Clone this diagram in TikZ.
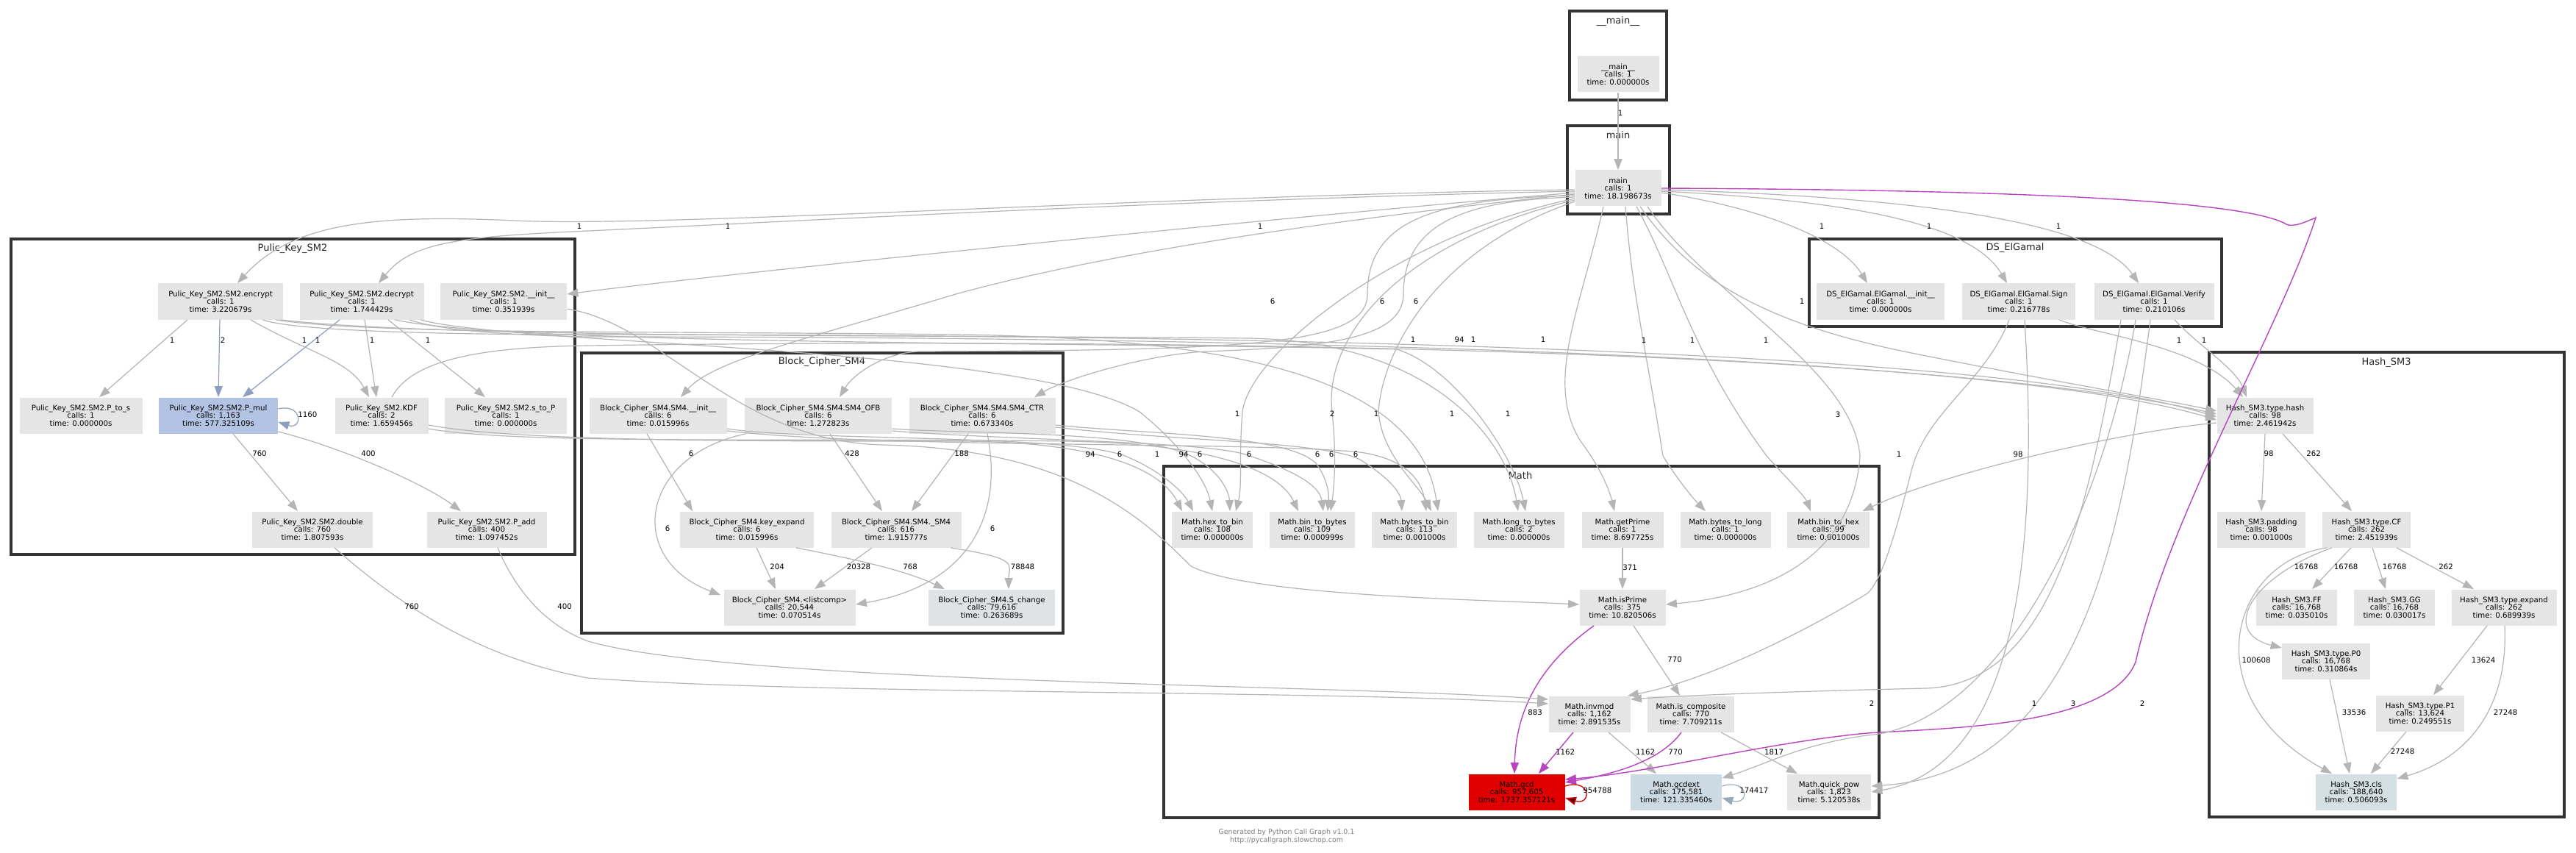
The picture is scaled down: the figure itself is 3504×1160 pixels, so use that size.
\documentclass[tikz,border=0pt]{standalone}
\usepackage{fontspec}
\newfontfamily\vf{DejaVu Sans}
\usetikzlibrary{calc,arrows.meta}
\definecolor{ng}{HTML}{E5E5E5}
\definecolor{pmulc}{HTML}{B3C3E3}
\definecolor{gcdc}{HTML}{E00000}
\definecolor{gcdxc}{HTML}{CBDAE3}
\definecolor{clsc}{HTML}{D5E0E5}
\definecolor{schc}{HTML}{DFE3E5}
\definecolor{eg}{HTML}{B5B5B5}
\definecolor{eblue}{HTML}{8E9EBE}
\definecolor{emag}{HTML}{B844C2}
\definecolor{ered}{HTML}{CC1111}
\definecolor{eloop}{HTML}{9AABB8}
\definecolor{cluc}{HTML}{333333}
\newcommand\nodefnt{\vf\fontsize{5.1}{5.3}\selectfont}
\newcommand\clufnt{\vf\fontsize{6.5}{7}\selectfont}
\newcommand\footfnt{\vf\fontsize{4.7}{5.6}\selectfont}
\tikzset{
  fn/.style={fill=ng, inner sep=0pt, minimum height=24.5pt, align=center, font=\nodefnt, text=black},
  clu/.style={draw=cluc, line width=2pt},
  clbl/.style={font=\clufnt, text=black!85, inner sep=0pt},
  e/.style={draw=eg, line width=0.6pt, -{Triangle[length=7.5pt,width=5.5pt]}},
  eb/.style={draw=eblue, line width=0.6pt, -{Triangle[length=7.5pt,width=5.5pt]}},
  em/.style={draw=emag, line width=0.7pt, -{Triangle[length=7.5pt,width=5.5pt]}},
  lbl/.style={font=\nodefnt, inner sep=0pt},
  foot/.style={font=\footfnt, text=black!50, inner sep=0pt}
}
\begin{document}
\begin{tikzpicture}[x=0.5pt,y=-0.5pt]
\useasboundingbox (0,0) rectangle (3504,1160);
\fill[white] (0,0) rectangle (3504,1160);
% clusters
\draw[clu] (2135,15) rectangle (2267,136);
\draw[clu] (2132,171) rectangle (2271,291);
\draw[clu] (15,325) rectangle (782,754);
\draw[clu] (791,480) rectangle (1446,861);
\draw[clu] (1583,634) rectangle (2556,1112);
\draw[clu] (2461,325) rectangle (3022,444);
\draw[clu] (3005,479) rectangle (3488,1111);
\node[clbl] (c_mm) at (2201,29) {\_\_main\_\_};
\node[clbl] (c_main) at (2201,184) {main};
\node[clbl] (c_sm2) at (398,338) {Pulic\_Key\_SM2};
\node[clbl] (c_sm4) at (1118,492) {Block\_Cipher\_SM4};
\node[clbl] (c_math) at (2068,647) {Math};
\node[clbl] (c_ds) at (2741,337) {DS\_ElGamal};
\node[clbl] (c_hash) at (3246,493) {Hash\_SM3};
% nodes
\node[fn, minimum width=55.5pt] (mm) at (2201,101) {\_\_main\_\_\\calls: 1\\time: 0.000000s};
\node[fn, minimum width=58.5pt] (main) at (2201,256) {main\\calls: 1\\time: 18.198673s};
\node[fn, minimum width=85pt] (enc) at (300,410) {Pulic\_Key\_SM2.SM2.encrypt\\calls: 1\\time: 3.220679s};
\node[fn, minimum width=84.5pt] (dec) at (492,410) {Pulic\_Key\_SM2.SM2.decrypt\\calls: 1\\time: 1.744429s};
\node[fn, minimum width=86pt] (sminit) at (685,410) {Pulic\_Key\_SM2.SM2.\_\_init\_\_\\calls: 1\\time: 0.351939s};
\node[fn, minimum width=83.5pt] (pts) at (110,565) {Pulic\_Key\_SM2.SM2.P\_to\_s\\calls: 1\\time: 0.000000s};
\node[fn, fill=pmulc, minimum width=81pt] (pmul) at (297,565) {Pulic\_Key\_SM2.SM2.P\_mul\\calls: 1,163\\time: 577.325109s};
\node[fn, minimum width=63.5pt] (kdf) at (519,565) {Pulic\_Key\_SM2.KDF\\calls: 2\\time: 1.659456s};
\node[fn, minimum width=83pt] (stp) at (688,565) {Pulic\_Key\_SM2.SM2.s\_to\_P\\calls: 1\\time: 0.000000s};
\node[fn, minimum width=82pt] (dbl) at (425,720) {Pulic\_Key\_SM2.SM2.double\\calls: 760\\time: 1.807593s};
\node[fn, minimum width=81.5pt] (padd) at (662,720) {Pulic\_Key\_SM2.SM2.P\_add\\calls: 400\\time: 1.097452s};
\node[fn, minimum width=93.5pt] (sinit) at (895,565) {Block\_Cipher\_SM4.SM4.\_\_init\_\_\\calls: 6\\time: 0.015996s};
\node[fn, minimum width=100pt] (ofb) at (1113,565) {Block\_Cipher\_SM4.SM4.SM4\_OFB\\calls: 6\\time: 1.272823s};
\node[fn, minimum width=99.5pt] (ctr) at (1336,565) {Block\_Cipher\_SM4.SM4.SM4\_CTR\\calls: 6\\time: 0.673340s};
\node[fn, minimum width=91pt] (kexp) at (1016,720) {Block\_Cipher\_SM4.key\_expand\\calls: 6\\time: 0.015996s};
\node[fn, minimum width=88.5pt] (sm4f) at (1219,720) {Block\_Cipher\_SM4.SM4.\_SM4\\calls: 616\\time: 1.915777s};
\node[fn, minimum width=89.5pt] (lcomp) at (1074,826) {Block\_Cipher\_SM4.<listcomp>\\calls: 20,544\\time: 0.070514s};
\node[fn, fill=schc, minimum width=86pt] (schg) at (1349,826) {Block\_Cipher\_SM4.S\_change\\calls: 79,616\\time: 0.263689s};
\node[fn, minimum width=87pt] (einit) at (2558,410) {DS\_ElGamal.ElGamal.\_\_init\_\_\\calls: 1\\time: 0.000000s};
\node[fn, minimum width=77pt] (sign) at (2746,410) {DS\_ElGamal.ElGamal.Sign\\calls: 1\\time: 0.216778s};
\node[fn, minimum width=81.5pt] (verify) at (2930,410) {DS\_ElGamal.ElGamal.Verify\\calls: 1\\time: 0.210106s};
\node[fn, minimum width=55pt] (htb) at (1649,720) {Math.hex\_to\_bin\\calls: 108\\time: 0.000000s};
\node[fn, minimum width=58pt] (btby) at (1785,720) {Math.bin\_to\_bytes\\calls: 109\\time: 0.000999s};
\node[fn, minimum width=58pt] (bytb) at (1924,720) {Math.bytes\_to\_bin\\calls: 113\\time: 0.001000s};
\node[fn, minimum width=61.5pt] (ltb) at (2066,720) {Math.long\_to\_bytes\\calls: 2\\time: 0.000000s};
\node[fn, minimum width=55.5pt] (gp) at (2207,720) {Math.getPrime\\calls: 1\\time: 8.697725s};
\node[fn, minimum width=61.5pt] (btl) at (2347,720) {Math.bytes\_to\_long\\calls: 1\\time: 0.000000s};
\node[fn, minimum width=56pt] (bth) at (2487,720) {Math.bin\_to\_hex\\calls: 99\\time: 0.001000s};
\node[fn, minimum width=58.5pt] (isp) at (2207,826) {Math.isPrime\\calls: 375\\time: 10.820506s};
\node[fn, minimum width=55.5pt] (inv) at (2162,971) {Math.invmod\\calls: 1,162\\time: 2.891535s};
\node[fn, minimum width=59pt] (isc) at (2300,971) {Math.is\_composite\\calls: 770\\time: 7.709211s};
\node[fn, fill=gcdc, minimum width=65.5pt] (gcd) at (2063,1077) {Math.gcd\\calls: 957,605\\time: 1737.357121s};
\node[fn, fill=gcdxc, minimum width=62pt] (gcdx) at (2280,1077) {Math.gcdext\\calls: 175,581\\time: 121.335460s};
\node[fn, minimum width=57pt] (qp) at (2488,1077) {Math.quick\_pow\\calls: 1,823\\time: 5.120538s};
\node[fn, minimum width=65.5pt] (hash) at (3081,565) {Hash\_SM3.type.hash\\calls: 98\\time: 2.461942s};
\node[fn, minimum width=60pt] (pad) at (3076,720) {Hash\_SM3.padding\\calls: 98\\time: 0.001000s};
\node[fn, minimum width=60pt] (cf) at (3219,720) {Hash\_SM3.type.CF\\calls: 262\\time: 2.451939s};
\node[fn, minimum width=55pt] (ff) at (3124,826) {Hash\_SM3.FF\\calls: 16,768\\time: 0.035010s};
\node[fn, minimum width=55pt] (gg) at (3257,826) {Hash\_SM3.GG\\calls: 16,768\\time: 0.030017s};
\node[fn, minimum width=71.5pt] (expd) at (3406,826) {Hash\_SM3.type.expand\\calls: 262\\time: 0.689939s};
\node[fn, minimum width=60pt] (pz) at (3164,899) {Hash\_SM3.type.P0\\calls: 16,768\\time: 0.310864s};
\node[fn, minimum width=60pt] (po) at (3292,970) {Hash\_SM3.type.P1\\calls: 13,624\\time: 0.249551s};
\node[fn, fill=clsc, minimum width=55pt] (cls) at (3205,1077) {Hash\_SM3.cls\\calls: 188,640\\time: 0.506093s};
% ---------- edges inside clusters ----------
\draw[e] (mm.south) -- (main.north);
\draw[e] ($(enc.south)+(-45,0)$) -- ($(pts.north)+(25,0)$);
\draw[eb] ($(enc.south)+(-1,0)$) -- (pmul.north);
\draw[eb] ($(dec.south)+(-30,0)$) -- ($(pmul.north)+(33,0)$);
\draw[e] ($(enc.south)+(41,0)$) .. controls (420,480) and (475,490) .. ($(kdf.north)+(-17,0)$);
\draw[e] ($(dec.south)+(4,0)$) -- ($(kdf.north)+(-7,0)$);
\draw[e] ($(dec.south)+(36,0)$) -- ($(stp.north)+(-28,0)$);
\draw[eb] ($(pmul.east)+(0,-9)$) .. controls (412,548) and (412,585) .. ($(pmul.east)+(0,9)$);
\draw[e] ($(pmul.south)+(20,0)$) -- ($(dbl.north)+(-20,0)$);
\draw[e] ($(pmul.east)+(0,22)$) .. controls (470,610) and (580,660) .. ($(padd.north)+(-35,0)$);
\draw[e] ($(sinit.south)+(-15,0)$) -- ($(kexp.north)+(-74,0)$);
\draw[e] ($(ofb.south)+(16,0)$) -- ($(sm4f.north)+(-19,0)$);
\draw[e] ($(ctr.south)+(-19,0)$) -- ($(sm4f.north)+(21,0)$);
\draw[e] ($(ofb.south west)+(2,0)$) .. controls (870,620) and (850,760) .. ($(lcomp.north west)+(-4,8)$);
\draw[e] ($(ctr.south)+(7,0)$) .. controls (1365,700) and (1320,795) .. ($(lcomp.east)+(0,-4)$);
\draw[e] ($(kexp.south)+(13,0)$) -- ($(lcomp.north)+(-19,0)$);
\draw[e] ($(sm4f.south)+(-33,0)$) -- ($(lcomp.north)+(34,0)$);
\draw[e] ($(kexp.south)+(67,0)$) .. controls (1160,760) and (1230,775) .. ($(schg.north)+(-64,0)$);
\draw[e] ($(sm4f.south)+(74,0)$) .. controls (1390,760) and (1372,768) .. ($(schg.north)+(23,0)$);
\draw[e] (gp.south) -- (isp.north);
\draw[e] ($(isp.south)+(15,0)$) -- ($(isc.north)+(-15,0)$);
\draw[em] ($(isp.south)+(-39,0)$) .. controls (2100,900) and (2062,960) .. ($(gcd.north)+(-3,0)$);
\draw[em] ($(inv.south)+(-22,0)$) -- ($(gcd.north)+(30,0)$);
\draw[e] ($(inv.south)+(26,0)$) -- ($(gcdx.north)+(-27,0)$);
\draw[em] ($(isc.south)+(-13,0)$) .. controls (2255,1040) and (2180,1055) .. ($(gcd.east)+(0,-13)$);
\draw[e] ($(isc.south)+(41,0)$) -- ($(qp.north)+(-43,0)$);
\draw[draw=ered, line width=0.7pt, -{Triangle[length=7.5pt,width=5.5pt,fill=black!60!red]}] ($(gcd.east)+(0,-8)$) .. controls (2165,1058) and (2165,1096) .. ($(gcd.east)+(0,8)$);
\draw[draw=eloop, line width=0.6pt, -{Triangle[length=7.5pt,width=5.5pt]}] ($(gcdx.east)+(0,-8)$) .. controls (2380,1058) and (2380,1096) .. ($(gcdx.east)+(0,8)$);
\draw[e] (hash.south) -- (pad.north);
\draw[e] ($(hash.south)+(24,0)$) -- ($(cf.north)+(-20,0)$);
\draw[e] ($(cf.south)+(-47,0)$) .. controls (3060,785) and (3020,860) .. ($(pz.west)+(0,-18)$);
\draw[e] ($(cf.south)+(-21,0)$) -- ($(ff.north)+(21,0)$);
\draw[e] ($(cf.south)+(8,0)$) -- ($(gg.north)+(-12,0)$);
\draw[e] ($(cf.south)+(41,0)$) -- ($(expd.north)+(-41,0)$);
\draw[e] ($(cf.south)+(-54,0)$) .. controls (3030,765) and (2985,950) .. ($(cls.north)+(-33,0)$);
\draw[e] ($(expd.south)+(-23,0)$) -- ($(po.north)+(18,0)$);
\draw[e] ($(expd.south)+(1,0)$) .. controls (3412,960) and (3360,1030) .. ($(cls.east)+(0,-18)$);
\draw[e] ($(pz.south)+(5,0)$) -- ($(cls.north)+(-9,0)$);
\draw[e] ($(po.south)+(-19,0)$) -- ($(cls.north)+(20,0)$);
% ---------- cross edges ----------
\draw[e] ($(main.west)+(0,2)$) .. controls (1600,265) and (900,310) .. (700,300) .. controls (520,292) and (400,300) .. ($(enc.north)+(23,0)$);
\draw[e] ($(main.west)+(0,4)$) .. controls (1600,272) and (1100,300) .. (800,314) .. controls (620,322) and (560,330) .. ($(dec.north)+(23,0)$);
\draw[e] ($(main.west)+(0,6)$) .. controls (1800,290) and (1000,370) .. ($(sminit.east)+(0,-10)$);
\draw[e] ($(main.west)+(0,8)$) .. controls (1800,300) and (1500,345) .. (1300,400) .. controls (1100,460) and (970,490) .. ($(sinit.north)+(31,0)$);
\draw[e] ($(main.west)+(0,10)$) .. controls (1950,270) and (1860,300) .. (1860,400) .. controls (1860,470) and (1700,476) .. (1250,478) .. controls (1200,480) and (1160,510) .. ($(ofb.north)+(29,0)$);
\draw[e] ($(main.west)+(0,12)$) .. controls (2000,272) and (1909,300) .. (1909,400) .. controls (1909,462) and (1800,472) .. (1640,478) .. controls (1560,482) and (1450,515) .. ($(ctr.north)+(71,0)$);
\draw[e] ($(main.east)+(0,6)$) .. controls (2380,280) and (2500,320) .. ($(einit.north)+(-18,0)$);
\draw[e] ($(main.east)+(0,4)$) .. controls (2500,272) and (2680,300) .. ($(sign.north)+(-16,0)$);
\draw[e] ($(main.east)+(0,2)$) .. controls (2600,268) and (2850,300) .. ($(verify.north)+(-21,0)$);
\draw[e] ($(main.south)+(30,0)$) .. controls (2300,380) and (2400,440) .. (2600,480) .. controls (2800,520) and (2950,545) .. ($(hash.west)+(0,-6)$);
\draw[e] ($(sign.south)+(55,0)$) .. controls (2850,455) and (2990,470) .. ($(hash.north)+(-30,0)$);
\draw[e] ($(verify.south)+(28,0)$) .. controls (2990,470) and (3040,500) .. ($(hash.north)+(-25,0)$);
\draw[e] ($(kdf.north)+(14,0)$) .. controls (560,490) and (650,472) .. (800,470) .. controls (1500,460) and (2600,470) .. ($(hash.west)+(0,-2)$);
\draw[e] ($(enc.south east)+(-28,0)$) .. controls (400,450) and (600,455) .. (800,455) .. controls (1600,455) and (2700,470) .. ($(hash.west)+(0,2)$);
\draw[e] ($(dec.south east)+(-20,0)$) .. controls (600,450) and (700,456) .. (800,458) .. controls (1600,458) and (2700,476) .. ($(hash.west)+(0,6)$);
\draw[e] ($(kdf.east)+(0,13)$) .. controls (700,600) and (1000,600) .. (1300,600) .. controls (1500,600) and (1580,640) .. ($(htb.north)+(-41,0)$);
\draw[e] ($(kdf.east)+(0,18)$) .. controls (700,605) and (1100,595) .. (1450,600) .. controls (1650,603) and (1740,640) .. ($(btby.north)+(-19,0)$);
\draw[e] ($(sinit.east)+(0,18)$) .. controls (1100,600) and (1450,590) .. (1530,620) .. controls (1580,640) and (1610,670) .. ($(htb.north)+(-26,0)$);
\draw[e] ($(dec.south east)+(-5,0)$) .. controls (700,470) and (1400,470) .. (1550,560) .. controls (1600,600) and (1640,650) .. (htb.north);
\draw[e] ($(ofb.east)+(0,18)$) .. controls (1300,590) and (1550,585) .. (1620,620) .. controls (1660,640) and (1672,670) .. ($(htb.north)+(24,0)$);
\draw[e] ($(main.west)+(0,14)$) .. controls (1900,320) and (1700,480) .. (1690,560) .. controls (1685,620) and (1690,660) .. ($(htb.north)+(32,0)$);
\draw[e] ($(ofb.east)+(0,21)$) .. controls (1400,600) and (1650,600) .. (1700,620) .. controls (1760,640) and (1795,660) .. ($(btby.north)+(15,0)$);
\draw[e] ($(ctr.east)+(0,13)$) .. controls (1550,590) and (1750,590) .. (1790,630) .. controls (1805,650) and (1808,670) .. ($(btby.north)+(21,0)$);
\draw[e] ($(main.west)+(0,16)$) .. controls (1900,330) and (1800,460) .. (1812,560) .. controls (1818,620) and (1815,660) .. ($(btby.north)+(25,0)$);
\draw[e] ($(ctr.east)+(0,16)$) .. controls (1600,600) and (1800,600) .. (1850,625) .. controls (1890,650) and (1905,670) .. ($(bytb.north)+(-17,0)$);
\draw[e] ($(sinit.east)+(0,21)$) .. controls (1200,610) and (1700,600) .. (1850,615) .. controls (1920,625) and (1935,660) .. ($(bytb.north)+(16,0)$);
\draw[e] ($(main.west)+(0,18)$) .. controls (1950,340) and (1880,480) .. (1875,560) .. controls (1880,620) and (1930,660) .. ($(bytb.north)+(23,0)$);
\draw[e] ($(enc.south east)+(-10,0)$) .. controls (500,455) and (900,450) .. (1300,455) .. controls (1700,460) and (1930,520) .. ($(bytb.north)+(32,0)$);
\draw[e] ($(enc.south east)+(-4,0)$) .. controls (600,460) and (1200,455) .. (1700,460) .. controls (1950,465) and (2050,600) .. ($(ltb.north)+(-1,0)$);
\draw[e] ($(dec.south east)+(-40,0)$) .. controls (700,470) and (1500,465) .. (1900,475) .. controls (1980,500) and (2060,620) .. ($(ltb.north)+(9,0)$);
\draw[e] ($(main.south)+(-20,0)$) .. controls (2150,420) and (2100,520) .. (2150,600) .. controls (2180,640) and (2190,670) .. ($(gp.north)+(-11,0)$);
\draw[e] ($(main.south)+(10,0)$) .. controls (2220,400) and (2240,480) .. (2262,620) .. controls (2280,650) and (2305,680) .. ($(btl.north)+(-27,0)$);
\draw[e] ($(main.south)+(25,0)$) .. controls (2280,380) and (2300,480) .. (2403,620) .. controls (2430,650) and (2455,675) .. ($(bth.north)+(-24,0)$);
\draw[e] ($(hash.west)+(0,10)$) .. controls (2900,585) and (2650,640) .. ($(bth.north east)+(-10,0)$);
\draw[e] ($(main.south)+(40,0)$) .. controls (2320,400) and (2520,500) .. (2530,620) .. controls (2520,760) and (2400,810) .. ($(isp.east)+(0,-4)$);
\draw[e] ($(sign.south)+(-13,0)$) .. controls (2700,520) and (2620,560) .. (2600,640) .. controls (2580,720) and (2560,790) .. (2540,807) .. controls (2420,880) and (2300,930) .. ($(inv.north east)+(-4,0)$);
\draw[e] ($(sminit.east)+(0,10)$) .. controls (900,440) and (1000,600) .. (1200,605) .. controls (1450,610) and (1550,700) .. (1620,770) .. controls (1700,810) and (2000,815) .. ($(isp.west)+(0,-4)$);
\draw[e] ($(dbl.south)+(30,0)$) .. controls (540,820) and (650,895) .. (800,922) .. controls (1100,945) and (1800,938) .. ($(inv.west)+(0,-14)$);
\draw[e] ($(padd.south)+(15,0)$) .. controls (700,800) and (740,850) .. (800,872) .. controls (1000,930) and (1800,930) .. ($(inv.west)+(0,-20)$);
\draw[em] ($(main.east)+(0,0)$) .. controls (2700,258) and (3050,270) .. (3110,305) .. controls (3120,310) and (3140,300) .. (3150,296) .. controls (3100,450) and (2950,700) .. (2905,900) .. controls (2870,990) and (2640,990) .. (2540,997) .. controls (2400,1010) and (2250,1050) .. ($(gcd.east)+(0,-17)$);
\draw[e] ($(verify.south)+(-45,0)$) .. controls (2840,700) and (2790,930) .. (2620,936) .. controls (2450,940) and (2300,945) .. ($(inv.east)+(0,-20)$);
\draw[e] ($(verify.south)+(-25,0)$) .. controls (2860,700) and (2720,985) .. (2540,1000) .. controls (2450,1012) and (2400,1040) .. ($(gcdx.north east)+(0,6)$);
\draw[e] ($(verify.south)+(-5,0)$) .. controls (2890,700) and (2840,1050) .. ($(qp.east)+(0,-8)$);
\draw[e] ($(sign.south)+(8,0)$) .. controls (2770,700) and (2760,1040) .. ($(qp.east)+(0,0)$);
% ---------- edge labels ----------
\node[lbl] (l1) at (2204,154) {1};
\node[lbl] at (234,463) {1};
\node[lbl] at (303,463) {2};
\node[lbl] at (414,463) {1};
\node[lbl] at (432,463) {1};
\node[lbl] at (506,463) {1};
\node[lbl] at (582,463) {1};
\node[lbl, anchor=west] at (405,564) {1160};
\node[lbl] at (353,617) {760};
\node[lbl] at (501,617) {400};
\node[lbl] at (560,825) {760};
\node[lbl] at (768,825) {400};
\node[lbl] at (940,617) {6};
\node[lbl] at (1159,617) {428};
\node[lbl] at (1308,617) {188};
\node[lbl] at (908,719) {6};
\node[lbl] at (1350,719) {6};
\node[lbl] at (1057,771) {204};
\node[lbl] at (1168,771) {20328};
\node[lbl] at (1238,771) {768};
\node[lbl] at (1391,771) {78848};
\node[lbl] at (2217,772) {371};
\node[lbl] at (2278,897) {770};
\node[lbl] at (2088,969) {883};
\node[lbl] at (2129,1023) {1162};
\node[lbl] at (2238,1023) {1162};
\node[lbl] at (2279,1023) {770};
\node[lbl] at (2413,1023) {1817};
\node[lbl, anchor=west] at (2153,1075) {954788};
\node[lbl, anchor=west] at (2366,1075) {174417};
\node[lbl] at (3086,617) {98};
\node[lbl] at (3147,617) {262};
\node[lbl] at (3137,771) {16768};
\node[lbl] at (3191,771) {16768};
\node[lbl] at (3257,771) {16768};
\node[lbl] at (3327,771) {262};
\node[lbl] at (3069,898) {100608};
\node[lbl] at (3378,898) {13624};
\node[lbl] at (3408,969) {27248};
\node[lbl] at (3202,969) {33536};
\node[lbl] at (3268,1022) {27248};
\node[lbl] at (788,308) {1};
\node[lbl] at (990,308) {1};
\node[lbl] at (1714,308) {1};
\node[lbl] at (1731,410) {6};
\node[lbl] at (1880,410) {6};
\node[lbl] at (1926,410) {6};
\node[lbl] at (2478,308) {1};
\node[lbl] at (2624,308) {1};
\node[lbl] at (2800,308) {1};
\node[lbl] at (2451,410) {1};
\node[lbl] at (2964,463) {1};
\node[lbl] at (2998,463) {1};
\node[lbl] at (1985,462) {94};
\node[lbl] at (2402,463) {1};
\node[lbl] at (2099,462) {1};
\node[lbl] at (1922,462) {1};
\node[lbl] at (2004,462) {1};
\node[lbl] at (2236,463) {1};
\node[lbl] at (2302,463) {1};
\node[lbl] at (1483,618) {94};
\node[lbl] at (1610,618) {94};
\node[lbl] at (1523,618) {6};
\node[lbl] at (1574,618) {1};
\node[lbl] at (1632,618) {6};
\node[lbl] at (1699,618) {6};
\node[lbl] at (1792,618) {6};
\node[lbl] at (1811,618) {6};
\node[lbl] at (1844,618) {6};
\node[lbl] at (1683,563) {1};
\node[lbl] at (1812,563) {2};
\node[lbl] at (1872,563) {1};
\node[lbl] at (1975,563) {1};
\node[lbl] at (2051,563) {1};
\node[lbl] at (2500,564) {3};
\node[lbl] at (2583,618) {1};
\node[lbl] at (2745,618) {98};
\node[lbl] at (2546,957) {2};
\node[lbl] at (2767,957) {1};
\node[lbl] at (2820,957) {3};
\node[lbl] at (2914,957) {2};
% footer
\node[foot] (f1) at (1750,1132) {Generated by Python Call Graph v1.0.1};
\node[foot] (f2) at (1750,1143) {http://pycallgraph.slowchop.com};
\end{tikzpicture}
\end{document}
